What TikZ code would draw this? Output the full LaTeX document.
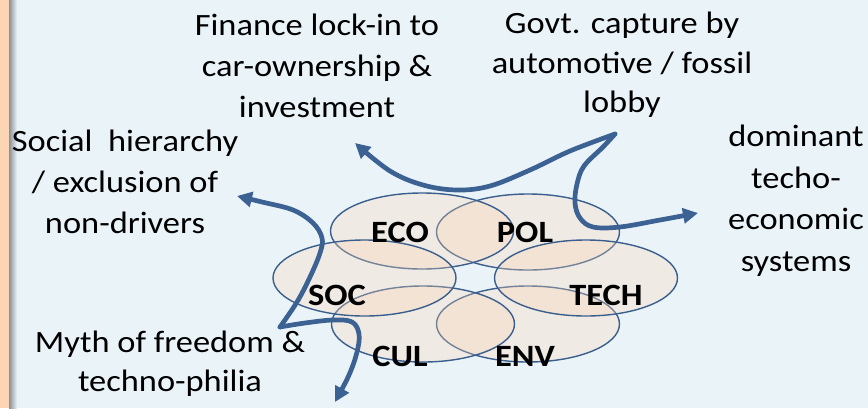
\documentclass[tikz,border=0pt]{standalone}
\usepackage{fontspec}
\setmainfont{Carlito}[FakeStretch=1.11]
\usetikzlibrary{arrows.meta,shapes.geometric}
\definecolor{bgblue}{HTML}{EAF4F8}
\definecolor{peach}{HTML}{FCD5B5}
\definecolor{arrowblue}{HTML}{3B6293}
\definecolor{ringblue}{HTML}{3A5F8E}
\definecolor{shadowgrey}{HTML}{8A9095}
\begin{document}
\begin{tikzpicture}[x=1pt,y=-1pt,
  txt/.style={font=\fontsize{31}{41}\selectfont, align=center, inner sep=0pt, anchor=north},
  lbl/.style={font=\fontsize{31}{31}\selectfont\bfseries, inner sep=0pt},
  ring/.style={ellipse, draw=ringblue, line width=1.4pt, fill=peach, fill opacity=0.3,
    minimum width=183pt, minimum height=76pt, inner sep=0pt},
  link/.style={draw=arrowblue, line width=4.7pt, line cap=round, line join=round},
  tip/.style={-{Triangle[length=15pt,width=15pt]}}
]
\useasboundingbox (0,0) rectangle (868,408);
\fill[bgblue] (0,0) rectangle (868,408);
\fill[peach] (0,0) rectangle (9,408);
\shade[left color=shadowgrey, right color=bgblue] (9,0) rectangle (17,408);

% ellipses
\node[ring] (pol) at (528,232) {};
\node[ring] (env) at (528,324) {};
\node[ring] (tech) at (586,278) {};
\node[ring] (cul) at (423,324) {};
\node[ring] (eco) at (422,231) {};
\node[ring] (soc) at (364.5,278) {};

% labels
\node[lbl] (ecol) at (400,232) {ECO};
\node[lbl] (poll) at (525,232) {POL};
\node[lbl] (socl) at (337,295) {SOC};
\node[lbl] (techl) at (606,295) {TECH};
\node[lbl] (cull) at (400,356) {CUL};
\node[lbl] (envl) at (525,356) {ENV};

% texts
\node[txt] (fin) at (317,14) {Finance lock-in to\\car-ownership \&\\investment};
\node[txt, font=\fontsize{31}{39.5}\selectfont] (gov) at (622,12) {Govt. capture by\\automotive / fossil\\lobby};
\node[txt] (socialt) at (125,130) {Social\ \ hierarchy\\/ exclusion of\\non-drivers};
\node[txt, font=\fontsize{31}{41.5}\selectfont] (dom) at (796,125) {dominant\\techo-\\economic\\systems};
\node[txt, font=\fontsize{31}{39}\selectfont] (myth) at (170,331) {Myth of freedom \&\\techno-philia};

% connectors
\coordinate (cusp) at (615,134);
\coordinate (fintip) at (355,143);
\coordinate (domtip) at (698,213);
\coordinate (corner) at (280,327);
\coordinate (soctip) at (237,196);
\coordinate (mythtip) at (335,402);

\draw[link, tip] plot[smooth, tension=0.6] coordinates {(cusp) (570,151) (530,170) (490,186) (457,190) (423,185) (390,171) (fintip)};
\draw[link, tip] plot[smooth, tension=0.6] coordinates {(cusp) (603,147) (584,166) (577,184) (575,203) (580,218) (593,227) (620,227) (660,220) (domtip)};
\draw[link, tip] plot[smooth, tension=0.6] coordinates {(corner) (297,302) (310,277) (320,253) (322,238) (313,223) (293,210) (262,202) (soctip)};
\draw[link, tip] plot[smooth, tension=0.6] coordinates {(corner) (305,323) (333,320) (352,322) (359,334) (357,352) (349,375) (mythtip)};
\end{tikzpicture}
\end{document}
